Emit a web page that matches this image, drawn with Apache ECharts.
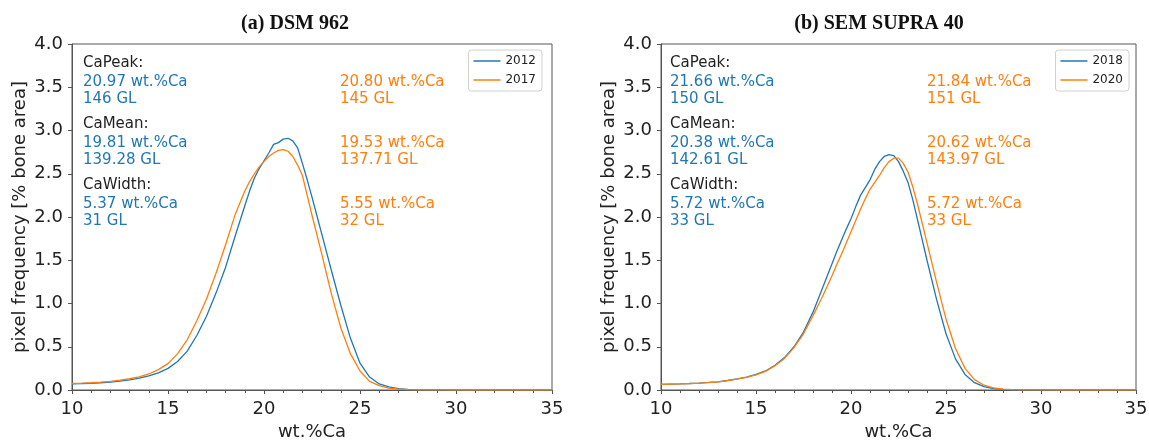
<!DOCTYPE html>
<html>
<head>
<meta charset="utf-8">
<script src="https://cdn.jsdelivr.net/npm/echarts@6/dist/echarts.min.js"></script>
<style>html,body{margin:0;padding:0;background:#fff}#c{width:1149px;height:440px}</style>
</head>
<body>
<div id="c"></div>
<script>
// ---- data ----
const xGrid = [10,10.5,11,11.5,12,12.5,13,13.5,14,14.5,15,15.5,16,16.5,17,17.5,18,18.5,19,
  19.25,19.5,19.75,20,20.25,20.5,20.75,21,21.25,21.5,21.75,22,22.25,22.5,22.75,23,23.25,23.5,
  24,24.5,25,25.5,26,26.5,27,27.5,28,28.5,29,30,31,32,33,34,35];

const dsm2012 = [0.070,0.073,0.078,0.084,0.092,0.103,0.118,0.138,0.163,0.198,0.25,0.33,0.45,0.63,0.85,1.12,1.42,1.78,2.13,
  2.30,2.45,2.56,2.65,2.74,2.84,2.86,2.90,2.91,2.88,2.80,2.62,2.43,2.23,2.02,1.81,1.60,1.39,
  0.98,0.60,0.31,0.15,0.07,0.035,0.016,0.008,0.004,0.002,0.001,0,0,0,0,0,0];
const dsm2017 = [0.075,0.079,0.084,0.091,0.100,0.113,0.130,0.153,0.185,0.235,0.305,0.42,0.58,0.80,1.05,1.35,1.68,2.03,2.30,
  2.41,2.50,2.58,2.64,2.70,2.74,2.77,2.78,2.76,2.70,2.60,2.48,2.25,2.02,1.80,1.58,1.35,1.12,
  0.72,0.42,0.22,0.10,0.05,0.022,0.010,0.005,0.002,0.001,0.0005,0,0,0,0,0,0];
const sem2018 = [0.065,0.068,0.071,0.075,0.080,0.087,0.095,0.110,0.128,0.150,0.180,0.220,0.285,0.375,0.50,0.67,0.90,1.18,1.46,
  1.60,1.73,1.86,1.98,2.12,2.25,2.34,2.43,2.55,2.64,2.70,2.72,2.71,2.64,2.53,2.40,2.20,1.97,
  1.50,1.05,0.65,0.36,0.18,0.085,0.038,0.016,0.007,0.003,0.0015,0.0003,0,0,0,0,0];
const sem2020 = [0.065,0.068,0.071,0.075,0.080,0.086,0.094,0.108,0.125,0.147,0.175,0.215,0.280,0.365,0.49,0.65,0.86,1.08,1.32,
  1.45,1.57,1.70,1.83,1.96,2.09,2.21,2.32,2.40,2.48,2.57,2.64,2.68,2.68,2.62,2.52,2.35,2.15,
  1.70,1.25,0.82,0.48,0.25,0.12,0.055,0.025,0.011,0.005,0.0025,0.0007,0,0,0,0,0];

const panelTitles = ['(a) DSM 962', '(b) SEM SUPRA 40'];
const legendNames = [['2012','2017'], ['2018','2020']];
const statHeads = ['CaPeak:', 'CaMean:', 'CaWidth:'];
const statsA1 = [['20.97 wt.%Ca','146 GL'], ['19.81 wt.%Ca','139.28 GL'], ['5.37 wt.%Ca','31 GL']];
const statsA2 = [['20.80 wt.%Ca','145 GL'], ['19.53 wt.%Ca','137.71 GL'], ['5.55 wt.%Ca','32 GL']];
const statsB1 = [['21.66 wt.%Ca','150 GL'], ['20.38 wt.%Ca','142.61 GL'], ['5.72 wt.%Ca','33 GL']];
const statsB2 = [['21.84 wt.%Ca','151 GL'], ['20.62 wt.%Ca','143.97 GL'], ['5.72 wt.%Ca','33 GL']];
const xTicks = [10, 15, 20, 25, 30, 35];
const yTicks = [0, 0.5, 1, 1.5, 2, 2.5, 3, 3.5, 4];

// ---- build ----
const BLUE = '#1f77b4', ORANGE = '#ff7f0e';
const FONT = 'DejaVu Sans';
const pair = (xs, ys) => xs.map((x, i) => [x, ys[i]]);

function xAxis(gi) {
  return {
    gridIndex: gi, type: 'value', min: 10, max: 35, interval: 5,
    name: 'wt.%Ca', nameLocation: 'middle', nameGap: 33,
    nameTextStyle: { fontFamily: FONT, fontSize: 18, color: '#222' },
    axisLine: { show: true, lineStyle: { color: '#555', width: 1 } },
    axisTick: { show: true, length: 4, lineStyle: { color: '#555' } },
    minorTick: { show: true, splitNumber: 5, length: 3, lineStyle: { color: '#555' } },
    axisLabel: { fontFamily: FONT, fontSize: 18, color: '#222', margin: 10,
      formatter: v => xTicks.includes(v) ? String(v) : '' },
    splitLine: { show: false }
  };
}
function yAxis(gi) {
  return {
    gridIndex: gi, type: 'value', min: 0, max: 4, interval: 0.5,
    name: 'pixel frequency [% bone area]', nameLocation: 'middle', nameGap: 43,
    nameTextStyle: { fontFamily: FONT, fontSize: 18, color: '#222' },
    axisLine: { show: true, lineStyle: { color: '#555', width: 1 } },
    axisTick: { show: true, length: 4, lineStyle: { color: '#555' } },
    axisLabel: { fontFamily: FONT, fontSize: 18, color: '#222', margin: 9,
      formatter: v => yTicks.includes(v) ? v.toFixed(1) : '' },
    splitLine: { show: false }
  };
}
function line(name, gi, ys, color) {
  return { name, type: 'line', xAxisIndex: gi, yAxisIndex: gi, data: pair(xGrid, ys),
    symbol: 'none', showSymbol: false, smooth: false,
    lineStyle: { color, width: 1.3 }, itemStyle: { color }, z: 3 };
}
function legend(names, right) {
  return { data: names, orient: 'vertical', right, top: 50, icon: 'rect',
    backgroundColor: 'rgba(255,255,255,0.8)', borderColor: '#d0d0d0', borderWidth: 1, borderRadius: 3,
    padding: [4, 6, 4, 5], itemWidth: 27, itemHeight: 1.5, itemGap: 5,
    textStyle: { fontFamily: FONT, fontSize: 12, color: '#222', lineHeight: 14 } };
}
function statText(x0, x1, s1, s2) {
  const els = [];
  const tops = [65, 126, 187];
  statHeads.forEach((h, i) => {
    const y = tops[i];
    els.push({ type: 'text', left: x0, top: y - 9, style: { text: h, fill: '#222', font: '15px "DejaVu Sans"' } });
    els.push({ type: 'text', left: x0, top: y + 8, style: { text: s1[i][0] + '\n' + s1[i][1], fill: BLUE, font: '15px "DejaVu Sans"', lineHeight: 17.5 } });
    els.push({ type: 'text', left: x1, top: y + 8, style: { text: s2[i][0] + '\n' + s2[i][1], fill: ORANGE, font: '15px "DejaVu Sans"', lineHeight: 17.5 } });
  });
  return els;
}

const titleStyle = { fontFamily: 'Liberation Serif', fontWeight: 'bold', fontSize: 20, color: '#111' };

const option = {
  animation: false,
  backgroundColor: '#fff',
  title: [
    { text: panelTitles[0], left: 290, top: 9, textAlign: 'center', textStyle: titleStyle },
    { text: panelTitles[1], left: 874, top: 9, textAlign: 'center', textStyle: titleStyle }
  ],
  grid: [
    { left: 72, right: 597, top: 44, bottom: 50, show: true, borderColor: '#555', borderWidth: 1,
      backgroundColor: 'transparent', outerBoundsMode: 'none', containLabel: false },
    { left: 661, right: 13, top: 44, bottom: 50, show: true, borderColor: '#555', borderWidth: 1,
      backgroundColor: 'transparent', outerBoundsMode: 'none', containLabel: false }
  ],
  xAxis: [xAxis(0), xAxis(1)],
  yAxis: [yAxis(0), yAxis(1)],
  legend: [legend(legendNames[0], 607), legend(legendNames[1], 20)],
  series: [
    line(legendNames[0][0], 0, dsm2012, BLUE),
    line(legendNames[0][1], 0, dsm2017, ORANGE),
    line(legendNames[1][0], 1, sem2018, BLUE),
    line(legendNames[1][1], 1, sem2020, ORANGE)
  ],
  graphic: statText(83, 340, statsA1, statsA2).concat(statText(670, 927, statsB1, statsB2))
};

const chart = echarts.init(document.getElementById('c'), null, { renderer: 'canvas' });
chart.setOption(option);
</script>
</body>
</html>
